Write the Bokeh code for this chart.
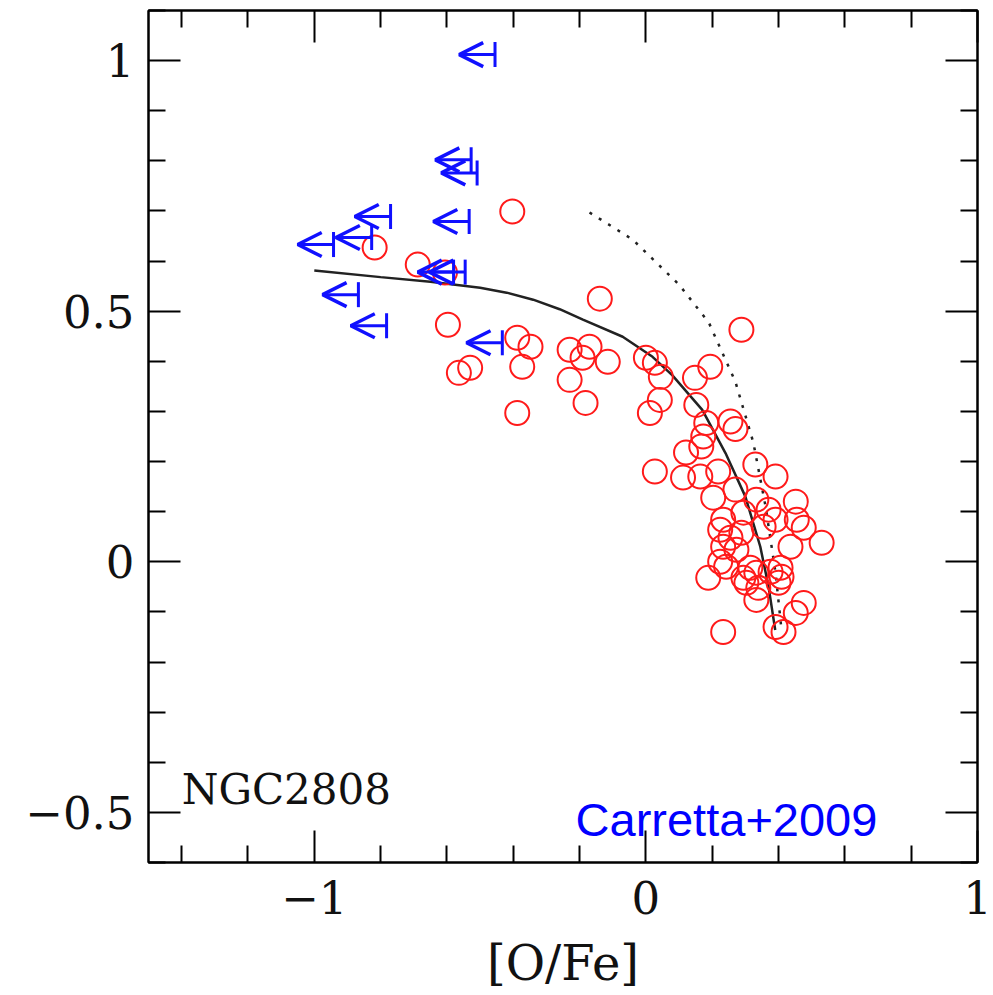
import numpy as np
from bokeh.plotting import figure
from bokeh.models import (LinearAxis, FixedTicker, Range1d, Arrow, OpenHead,
                          ColumnDataSource, Label, CustomLabelingPolicy)
from bokeh.embed import file_html
from bokeh.resources import INLINE

# ---- data ----
red_x = [-0.403, -0.818, -0.688, -0.606, -0.597, -0.564, -0.530, -0.388, -0.348, -0.373,
         -0.388, -0.230, -0.170, -0.191, -0.115, -0.230, -0.182, -0.139, 0.000, 0.027,
         0.045, 0.042, 0.012, 0.027, 0.288,
         0.194, 0.148, 0.152, 0.255, 0.270, 0.182, 0.173, 0.167, 0.121, 0.112,
         0.164, 0.218, 0.330, 0.391, 0.203, 0.270, 0.333, 0.452, 0.233, 0.294,
         0.370, 0.455, 0.476, 0.224, 0.255, 0.288, 0.355, 0.391, 0.233, 0.273,
         0.436, 0.530, 0.224, 0.242, 0.315, 0.333, 0.376, 0.406, 0.409, 0.188,
         0.294, 0.303, 0.339, 0.400, 0.333, 0.476, 0.452, 0.391, 0.415, 0.233]
red_y = [0.699, 0.627, 0.593, 0.577, 0.473, 0.377, 0.387, 0.447, 0.429, 0.389,
         0.297, 0.423, 0.429, 0.407, 0.399, 0.363, 0.317, 0.525, 0.407, 0.397,
         0.369, 0.323, 0.297, 0.180, 0.463,
         0.389, 0.367, 0.313, 0.280, 0.265, 0.277, 0.250, 0.230, 0.218, 0.168,
         0.170, 0.180, 0.194, 0.170, 0.128, 0.144, 0.124, 0.120, 0.084, 0.098,
         0.104, 0.084, 0.068, 0.064, 0.048, 0.058, 0.070, 0.084, 0.030, 0.024,
         0.030, 0.038, 0.000, -0.010, -0.012, -0.022, -0.020, -0.012, -0.030, -0.032,
         -0.032, -0.042, -0.052, -0.042, -0.076, -0.082, -0.102, -0.130, -0.140, -0.140]

lim_x = [-0.455, -0.527, -0.509, -0.770, -0.533, -0.942, -0.827, -0.580, -0.545,
         -0.867, -0.782, -0.433]
lim_y = [1.012, 0.802, 0.776, 0.689, 0.679, 0.633, 0.647, 0.578, 0.578,
         0.533, 0.471, 0.437]
arrow_len = 0.108

model_x = [-1.0, -0.8, -0.65, -0.5, -0.42, -0.34, -0.26, -0.19, -0.07, 0.02, 0.08,
           0.11, 0.17, 0.24, 0.30, 0.345, 0.37, 0.39]
model_y = [0.581, 0.568, 0.559, 0.547, 0.537, 0.523, 0.504, 0.483, 0.449, 0.409,
           0.372, 0.349, 0.303, 0.217, 0.130, 0.030, -0.050, -0.136]

dot_x = [-0.17, -0.04, 0.10, 0.19, 0.27, 0.324, 0.361, 0.391, 0.409]
dot_y = [0.697, 0.643, 0.553, 0.477, 0.359, 0.238, 0.110, -0.022, -0.136]

x_major = [-1, 0, 1]
x_minor = [-1.4, -1.2, -0.8, -0.6, -0.4, -0.2, 0.2, 0.4, 0.6, 0.8]
y_major = [-0.5, 0, 0.5, 1]
y_minor = [-0.6, -0.4, -0.3, -0.2, -0.1, 0.1, 0.2, 0.3, 0.4, 0.6, 0.7, 0.8, 0.9, 1.1]

# ---- figure ----
p = figure(width=993, height=995, output_backend="svg", toolbar_location=None,
           x_range=Range1d(-1.5, 1.0), y_range=Range1d(-0.6, 1.1),
           x_axis_location=None, y_axis_location=None,
           min_border_left=148, min_border_right=16, min_border_top=10,
           min_border_bottom=133)
p.grid.visible = False
p.outline_line_color = "black"
p.outline_line_width = 2
p.background_fill_color = "white"
p.border_fill_color = "white"

SERIF = "DejaVu Serif"
hide_all = CustomLabelingPolicy(code="""
    for (const i of Array.from(indices)) indices.unset(i)
    return indices
""")

def make_axis(ticks, minor, labels=True, label_text=None):
    ax = LinearAxis(ticker=FixedTicker(ticks=ticks, minor_ticks=minor))
    ax.major_tick_in = 32
    ax.major_tick_out = 0
    ax.minor_tick_in = 17
    ax.minor_tick_out = 0
    ax.major_tick_line_width = 2
    ax.minor_tick_line_width = 2
    ax.axis_line_width = 2
    ax.major_tick_line_color = "black"
    ax.minor_tick_line_color = "black"
    ax.axis_line_color = "black"
    if labels:
        ax.major_label_text_font = SERIF
        ax.major_label_text_font_size = "45px"
        ax.major_label_text_color = "#111111"
    else:
        ax.major_label_text_font_size = "1px"
        ax.major_label_standoff = 0
        ax.major_label_policy = hide_all
    if label_text:
        ax.axis_label = label_text
        ax.axis_label_text_font = SERIF
        ax.axis_label_text_font_size = "48px"
        ax.axis_label_text_font_style = "normal"
        ax.axis_label_text_color = "#111111"
    return ax

bottom = make_axis(x_major, x_minor, True, "[O/Fe]")
bottom.major_label_standoff = 18
bottom.axis_label_standoff = 18
bottom.major_label_overrides = {-1: "\u22121", 0: "0", 1: "1"}
left = make_axis(y_major, y_minor, True)
left.major_label_standoff = 14
left.major_label_overrides = {-0.5: "\u22120.5", 0: "0", 0.5: "0.5", 1: "1"}
top = make_axis(x_major, x_minor, False)
right = make_axis(y_major, y_minor, False)

p.add_layout(bottom, "below")
p.add_layout(left, "left")
p.add_layout(top, "above")
p.add_layout(right, "right")

# model curves
p.line(model_x, model_y, line_color="#222222", line_width=2.5)
p.line(dot_x, dot_y, line_color="#222222", line_width=2.5, line_dash="3 8")

# red circles
p.scatter(red_x, red_y, marker="circle", size=24, fill_color=None,
          line_color="#ff1a1a", line_width=2)

# blue upper limits
src = ColumnDataSource(dict(xs=lim_x, xe=[x - arrow_len for x in lim_x], y=lim_y))
p.add_layout(Arrow(end=OpenHead(size=24, line_color="#1010ff", line_width=3.5),
                   x_start="xs", y_start="y", x_end="xe", y_end="y", source=src,
                   line_color="#1010ff", line_width=3))
p.scatter(lim_x, lim_y, marker="dash", angle=np.pi / 2, size=25,
          line_color="#1010ff", line_width=3)

p.add_layout(Label(x=-1.40, y=-0.455, text="NGC2808", text_font=SERIF,
                   text_font_size="42px", text_color="#111111",
                   text_baseline="alphabetic"))
p.add_layout(Label(x=-0.212, y=-0.515, text="Carretta+2009",
                   text_font="Liberation Sans", text_font_size="47px",
                   text_color="#0000ff", text_baseline="alphabetic"))

open("out.html", "w").write(file_html(p, INLINE))
